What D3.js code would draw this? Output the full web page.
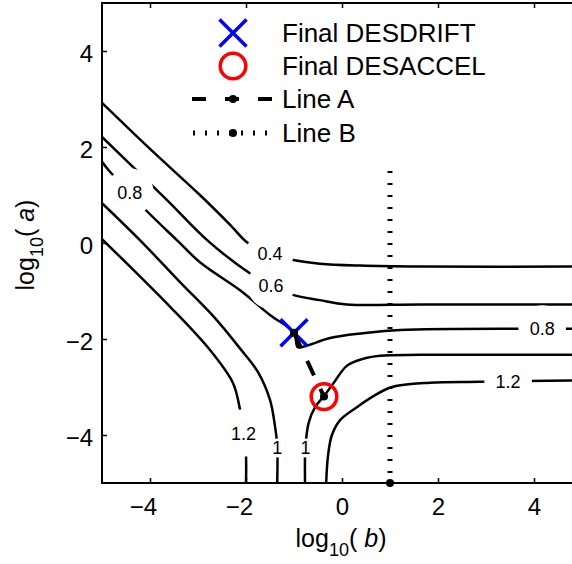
<!DOCTYPE html>
<html><head><meta charset="utf-8">
<script src="https://cdn.jsdelivr.net/npm/d3@7"></script>
<style>
body{margin:0;background:#fff}
svg{display:block;font-family:"Liberation Sans",Arial,Helvetica,sans-serif}
</style>
</head><body><svg id="chart" width="572" height="564"></svg>
<script>
// ---------- data ----------
const xTicks = [-4, -2, 0, 2, 4];
const yTicks = [-4, -2, 0, 2, 4];

const contour04 = [[-5,2.92],[-4,1.96],[-2.96,1.0],[-2.33,0.38],[-1.96,0.0],[-1.5,-0.21],[-1.04,-0.35],[-0.46,-0.43],[0.38,-0.47],[1.63,-0.49],[5,-0.49]];
const contour06 = [[-5,2.21],[-3.65,0.9],[-2.81,0.06],[-1.92,-0.63],[-1.48,-0.88],[-1.02,-1.08],[-0.46,-1.19],[0.1,-1.28],[1.63,-1.28],[5,-1.28]];
const contour08 = [[-5,1.69],[-4.83,1.48],[-4.42,1.06],[-4.15,0.75],[-3.44,0.06],[-2.96,-0.4],[-2.13,-0.98],[-1.5,-1.5],[-1.0,-1.87],[-0.92,-2.17],[-0.71,-2.13],[-0.25,-1.98],[0.44,-1.88],[1.21,-1.81],[5,-1.79]];
const contour10Left = [[-5,0.83],[-4.21,0.06],[-3.38,-0.81],[-2.65,-1.56],[-2.13,-2.19],[-1.75,-2.69],[-1.5,-3.27],[-1.4,-3.79],[-1.35,-4.21],[-1.35,-5]];
const contour10Right = [[-0.77,-5],[-0.77,-4.42],[-0.75,-4.1],[-0.69,-3.73],[-0.56,-3.42],[-0.375,-3.19],[-0.19,-2.94],[0.1,-2.56],[0.42,-2.42],[0.79,-2.35],[1.63,-2.33],[5,-2.33]];
const contour12Left = [[-5,0.08],[-3.58,-1.33],[-2.75,-2.23],[-2.27,-2.92],[-2.13,-3.44],[-2.04,-3.94],[-2.0,-4.42],[-2.0,-5]];
const contour12Right = [[-0.33,-5],[-0.29,-4.42],[-0.21,-4.0],[-0.04,-3.69],[0.31,-3.42],[0.69,-3.17],[1.04,-3.0],[1.83,-2.91],[2.88,-2.89],[5,-2.86]];

const labelTexts = ["0.4","0.6","0.8","0.8","1","1","1.2","1.2"];
const labelX = [-1.5,-1.48,-4.42,4.17,-1.35,-0.76,-2.05,3.46];
const labelY = [-0.21,-0.88,1.06,-1.79,-4.27,-4.27,-3.96,-2.88];

const finalDesdrift = [-1.0,-1.87];
const finalDesaccel = [-0.375,-3.2];
const lineA = [[-1.0,-1.87],[-0.375,-3.2]];
const lineB = [[1,1.5],[1,-5]];
const legendNames = ["Final DESDRIFT","Final DESACCEL","Line A","Line B"];

// ---------- drawing ----------
(function(){
const svg = d3.select("#chart");
const W = 572, H = 564;
const x = d3.scaleLinear().domain([-5,5]).range([102,582]);
const y = d3.scaleLinear().domain([-5,5]).range([483,3]);

svg.append("rect").attr("width",W).attr("height",H).attr("fill","#fff");
const defs = svg.append("defs");
defs.append("clipPath").attr("id","plotclip").append("rect")
  .attr("x",x(-5)).attr("y",y(5)).attr("width",x(5)-x(-5)).attr("height",y(-5)-y(5));
const mask = defs.append("mask").attr("id","lblmask").attr("maskUnits","userSpaceOnUse")
  .attr("x",0).attr("y",0).attr("width",W).attr("height",H);
mask.append("rect").attr("width",W).attr("height",H).attr("fill","white");

const contours = [contour04,contour06,contour08,contour10Left,contour10Right,contour12Left,contour12Right];
const line = d3.line().x(d=>x(d[0])).y(d=>y(d[1])).curve(d3.curveCatmullRom.alpha(0.5));

const cg = svg.append("g").attr("clip-path","url(#plotclip)").append("g").attr("mask","url(#lblmask)");
cg.selectAll("path").data(contours).join("path")
  .attr("d",line).attr("fill","none").attr("stroke","#000").attr("stroke-width",2.5)
  .attr("stroke-linejoin","round");

// contour labels
const lg = svg.append("g").attr("font-size",18).attr("fill","#000");
labelTexts.forEach((t,i)=>{
  const tx = lg.append("text").attr("x",x(labelX[i])).attr("y",y(labelY[i]))
    .attr("dy","0.36em").attr("text-anchor","middle").text(t);
  const w = tx.node().getComputedTextLength();
  mask.append("circle").attr("cx",x(labelX[i])).attr("cy",y(labelY[i])).attr("r",w*0.95).attr("fill","black");
});

// axes
const fs = 24;
const axB = svg.append("g").attr("transform",`translate(0,${y(-5)})`)
  .call(d3.axisBottom(x).tickValues(xTicks).tickSizeInner(-5).tickSizeOuter(0).tickFormat(d3.format("d")));
axB.select(".domain").remove();
axB.selectAll("line").attr("stroke","#000").attr("stroke-width",1.5);
axB.selectAll("text").attr("font-size",fs).attr("fill","#000")
  .attr("text-anchor","end").attr("x",fs*0.278).attr("y",32).attr("dy",null);

const axT = svg.append("g").attr("transform",`translate(0,${y(5)})`)
  .call(d3.axisTop(x).tickValues(xTicks).tickSizeInner(-5).tickSizeOuter(0).tickFormat(""));
axT.select(".domain").remove();
axT.selectAll("line").attr("stroke","#000").attr("stroke-width",1.5);

const axL = svg.append("g").attr("transform",`translate(${x(-5)},0)`)
  .call(d3.axisLeft(y).tickValues(yTicks).tickSizeInner(-5).tickSizeOuter(0).tickFormat(d3.format("d")));
axL.select(".domain").remove();
axL.selectAll("line").attr("stroke","#000").attr("stroke-width",1.5);
axL.selectAll("text").attr("font-size",fs).attr("fill","#000")
  .attr("text-anchor","end").attr("x",-9).attr("dy",null).attr("y",10);
[axB,axT,axL].forEach(a=>a.attr("font-family",null));

// box
svg.append("rect").attr("x",x(-5)).attr("y",y(5)).attr("width",x(5)-x(-5)).attr("height",y(-5)-y(5))
  .attr("fill","none").attr("stroke","#000").attr("stroke-width",2);

// markers X and O
const xPath = "M-13.5,-13.5L13.5,13.5M-13.5,13.5L13.5,-13.5";
svg.append("path").attr("d",xPath)
  .attr("transform",`translate(${x(finalDesdrift[0])},${y(finalDesdrift[1])})`)
  .attr("stroke","#0000ff").attr("stroke-width",3.5).attr("fill","none");
svg.append("circle").attr("cx",x(finalDesaccel[0])).attr("cy",y(finalDesaccel[1])).attr("r",12.8)
  .attr("stroke","#ff0000").attr("stroke-width",3.5).attr("fill","none");

// Line A
const straight = d3.line().x(d=>x(d[0])).y(d=>y(d[1]));
svg.append("path").attr("d",straight(lineA)).attr("fill","none").attr("stroke","#000")
  .attr("stroke-width",4).attr("stroke-dasharray","16,15");
svg.selectAll(".ma").data(lineA).join("circle").attr("class","ma")
  .attr("cx",d=>x(d[0])).attr("cy",d=>y(d[1])).attr("r",4).attr("fill","#000");
// Line B
svg.append("path").attr("d",straight(lineB)).attr("fill","none").attr("stroke","#000")
  .attr("stroke-width",5).attr("stroke-dasharray","2,10");
svg.append("circle").attr("cx",x(lineB[1][0])).attr("cy",y(lineB[1][1])).attr("r",4).attr("fill","#000");

// axis labels
const xl = svg.append("text").attr("x",341).attr("y",547).attr("text-anchor","middle")
  .attr("font-size",25).attr("fill","#000");
xl.append("tspan").text("log");
xl.append("tspan").attr("font-size",18).attr("dy",9).text("10");
xl.append("tspan").attr("dy",-9).text("( ");
xl.append("tspan").attr("font-style","italic").text("b");
xl.append("tspan").text(")");

const yl = svg.append("text").attr("transform","translate(34,245) rotate(-90)").attr("text-anchor","middle")
  .attr("font-size",25).attr("fill","#000");
yl.append("tspan").text("log");
yl.append("tspan").attr("font-size",18).attr("dy",9).text("10");
yl.append("tspan").attr("dy",-9).text("( ");
yl.append("tspan").attr("font-style","italic").text("a");
yl.append("tspan").text(")");

// legend
const legY = [33,66,99,133];
const legMX = 233, legTX = 282;
const leg = svg.append("g");
leg.append("path").attr("d",xPath).attr("transform",`translate(${legMX},${legY[0]})`)
  .attr("stroke","#0000ff").attr("stroke-width",3.5).attr("fill","none");
leg.append("circle").attr("cx",legMX).attr("cy",legY[1]).attr("r",12.8)
  .attr("stroke","#ff0000").attr("stroke-width",3.5).attr("fill","none");
leg.append("line").attr("x1",192).attr("x2",272).attr("y1",legY[2]).attr("y2",legY[2])
  .attr("stroke","#000").attr("stroke-width",4).attr("stroke-dasharray","14,19");
leg.append("circle").attr("cx",legMX).attr("cy",legY[2]).attr("r",4).attr("fill","#000");
leg.append("line").attr("x1",193).attr("x2",268).attr("y1",legY[3]).attr("y2",legY[3])
  .attr("stroke","#000").attr("stroke-width",5).attr("stroke-dasharray","2,10");
leg.append("circle").attr("cx",legMX).attr("cy",legY[3]).attr("r",4).attr("fill","#000");
leg.selectAll("text").data(legendNames).join("text")
  .attr("x",legTX).attr("y",(d,i)=>legY[i]).attr("dy","0.36em")
  .attr("font-size",26).attr("fill","#000").text(d=>d);
})();
</script>
</body></html>
